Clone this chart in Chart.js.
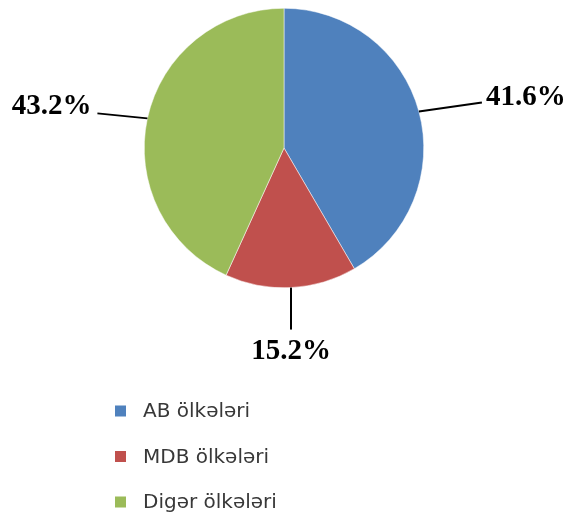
<!DOCTYPE html>
<html>
<head>
<meta charset="utf-8">
<script src="https://cdn.jsdelivr.net/npm/chart.js@4.4.1/dist/chart.umd.min.js"></script>
<style>
  html, body { margin: 0; padding: 0; background: #fff; }
  #wrap { width: 567px; height: 512px; position: relative; }
</style>
</head>
<body>
<div id="wrap"><canvas id="myChart" width="567" height="512"></canvas></div>
<script>
const labels = ['AB ölkələri', 'MDB ölkələri', 'Digər ölkələri']
const shares = [41.6, 15.2, 43.2]
const colors = ['#4F81BD', '#C0504D', '#9BBB59']

// leader line offsets from the slice edge, and label placement
const leaders = [
  { dx: 63, dy: -9, align: 'left', base: 'alphabetic', tx: 4, ty: 2 },
  { dx: 0, dy: 42, align: 'center', base: 'top', tx: 0, ty: 7 },
  { dx: -50, dy: -5, align: 'right', base: 'alphabetic', tx: -6, ty: 1 }
]

const pieLabels = {
  id: 'pieLabels',
  afterDatasetsDraw(chart) {
    const c = chart.ctx
    const arcs = chart.getDatasetMeta(0).data
    c.save()
    arcs.forEach((arc, i) => {
      const p = arc.getProps(['x', 'y', 'startAngle', 'endAngle', 'outerRadius'], true)
      const mid = (p.startAngle + p.endAngle) / 2
      const sx = p.x + Math.cos(mid) * p.outerRadius
      const sy = p.y + Math.sin(mid) * p.outerRadius
      const l = leaders[i]
      const ex = sx + l.dx, ey = sy + l.dy
      c.strokeStyle = '#000'
      c.lineWidth = 2
      c.beginPath()
      c.moveTo(sx, sy)
      c.lineTo(ex, ey)
      c.stroke()
      c.fillStyle = '#000'
      c.font = 'bold 29px "Liberation Serif", "Times New Roman", serif'
      c.textAlign = l.align
      c.textBaseline = l.base
      c.fillText(shares[i].toFixed(1) + '%', ex + l.tx, ey + l.ty)
    })
    c.restore()
  }
}

const sideLegend = {
  id: 'sideLegend',
  afterDraw(chart) {
    const c = chart.ctx
    c.save()
    c.font = '20px "DejaVu Sans", sans-serif'
    c.textAlign = 'left'
    c.textBaseline = 'middle'
    labels.forEach((name, i) => {
      const y = 411 + i * 45.5
      c.fillStyle = colors[i]
      c.fillRect(115, y - 5.5, 11, 11)
      c.fillStyle = '#383838'
      c.fillText(name, 143, y + 1)
    })
    c.restore()
  }
}

const ctx = document.getElementById('myChart')
new Chart(ctx, {
  type: 'pie',
  data: {
    labels: labels,
    datasets: [{
      data: shares,
      backgroundColor: colors,
      borderColor: '#ffffff',
      borderWidth: 0.5
    }]
  },
  options: {
    responsive: false,
    animation: false,
    layout: { padding: { top: 8, bottom: 224, left: 1, right: 0 } },
    plugins: {
      legend: { display: false },
      tooltip: { enabled: false }
    }
  },
  plugins: [pieLabels, sideLegend]
})
</script>
</body>
</html>
